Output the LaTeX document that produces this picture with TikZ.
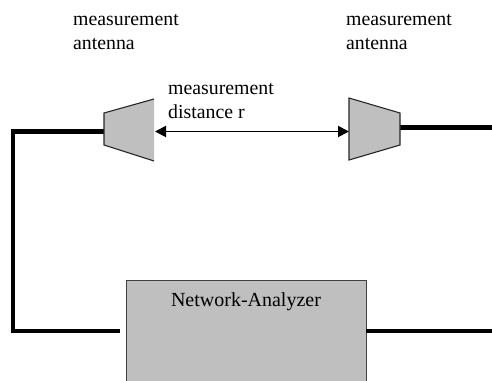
\documentclass[tikz,border=0pt]{standalone}
\usepackage{fontspec}
\setmainfont{Liberation Serif}
\usetikzlibrary{arrows.meta}
\tikzset{
  cable/.style={line width=4.2pt,line join=miter},
  shapefill/.style={fill=black!25,draw=none},
  outline/.style={draw=black!85,line width=1.1pt},
  lbl/.style={inner sep=0pt,anchor=base west,font=\fontsize{19.8pt}{24pt}\selectfont},
  span/.style={line width=1.9pt,{Triangle[length=11pt,width=11pt]}-{Triangle[length=11pt,width=11pt]}}
}
\begin{document}
\begin{tikzpicture}[x=1pt,y=-1pt]
\useasboundingbox (0,0) rectangle (492,380);
\fill[white] (0,0) rectangle (492,380);
% coordinates
\coordinate (la) at (104,131.5);
\coordinate (lb) at (155,131.5);
\coordinate (ra) at (349,131.5);
\coordinate (rb) at (400,127.5);
\coordinate (c1) at (13,131.5);
\coordinate (c2) at (13,331);
\coordinate (c3) at (120,331);
\coordinate (re) at (492,127.5);
\coordinate (be) at (492,331);
% cables
\draw[cable] (la) -- (c1) -- (c2) -- (c3);
\draw[cable,line width=4.7pt] (rb) -- (re);
% left antenna
\fill[shapefill] (104,113) -- (154,99) -- (154,161) -- (104,145) -- cycle;
\draw[outline] (154,99) -- (104,113) -- (104,145) -- (154,161);
% right antenna
\path[shapefill,outline] (349,98) -- (400,113) -- (400,145) -- (349,160) -- cycle;
% analyzer
\path[shapefill,draw=black!75,line width=1pt] (126,280) rectangle (366,382);
\node[inner sep=0pt,anchor=base] (na) at (246,306.5) {\fontsize{20pt}{24pt}\selectfont Network-Analyzer};
\coordinate (nr) at (366,331);
\draw[cable] (nr) -- (be);
% span arrow
\draw[span] (lb) -- (ra);
% labels
\node[lbl] (t1) at (73,25) {measurement};
\node[lbl] (t2) at (73,49) {antenna};
\node[lbl] (t3) at (346,25) {measurement};
\node[lbl] (t4) at (346,49) {antenna};
\node[lbl] (t5) at (168,94) {measurement};
\node[lbl] (t6) at (168,118) {distance r};
\end{tikzpicture}
\end{document}
